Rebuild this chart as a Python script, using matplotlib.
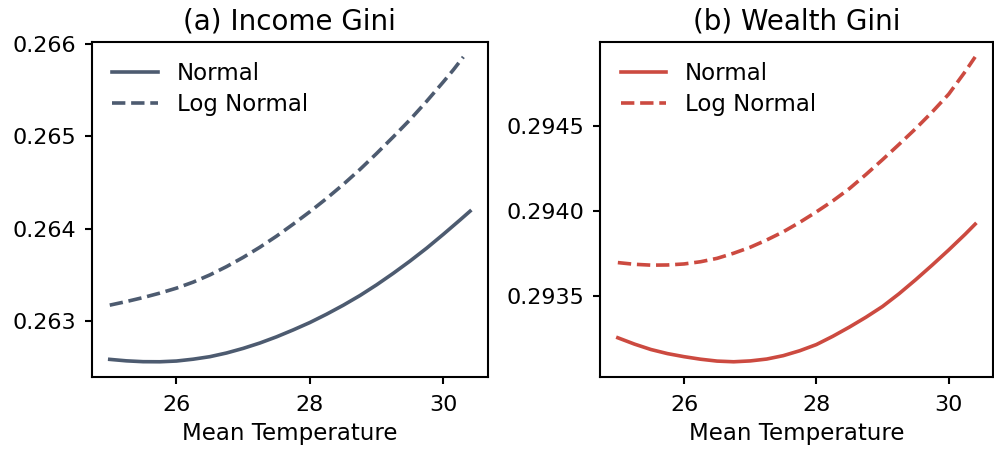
import matplotlib
matplotlib.use("Agg")
import matplotlib.pyplot as plt

# mean temperature grid
temp = [25.0, 25.25, 25.5, 25.75, 26.0, 26.25, 26.5, 26.75, 27.0, 27.25, 27.5, 27.75,
        28.0, 28.25, 28.5, 28.75, 29.0, 29.25, 29.5, 29.75, 30.0, 30.25, 30.4]
temp_ln_inc = [25.0, 25.25, 25.5, 25.75, 26.0, 26.25, 26.5, 26.75, 27.0, 27.25, 27.5, 27.75,
               28.0, 28.25, 28.5, 28.75, 29.0, 29.25, 29.5, 29.75, 30.0, 30.15, 30.3]

# (a) income gini
inc_normal = [0.262586, 0.262570, 0.262561, 0.262560, 0.262568, 0.262588, 0.262615, 0.262655,
              0.262705, 0.262763, 0.262830, 0.262905, 0.262985, 0.263075, 0.263172, 0.263277,
              0.263393, 0.263518, 0.263650, 0.263790, 0.263940, 0.264095, 0.264190]
inc_lognormal = [0.263173, 0.263212, 0.263255, 0.263303, 0.263357, 0.263422, 0.263500, 0.263590,
                 0.263690, 0.263800, 0.263920, 0.264050, 0.264185, 0.264328, 0.264480, 0.264642,
                 0.264815, 0.264995, 0.265180, 0.265380, 0.265590, 0.265720, 0.265860]

# (b) wealth gini
wea_normal = [0.293253, 0.293216, 0.293184, 0.293160, 0.293142, 0.293127, 0.293116, 0.293112,
              0.293117, 0.293128, 0.293148, 0.293177, 0.293213, 0.293262, 0.293316, 0.293374,
              0.293437, 0.293512, 0.293594, 0.293680, 0.293769, 0.293862, 0.293921]
wea_lognormal = [0.293695, 0.293685, 0.293680, 0.293681, 0.293687, 0.293700, 0.293720, 0.293750,
                 0.293785, 0.293828, 0.293876, 0.293932, 0.293993, 0.294058, 0.294130, 0.294213,
                 0.294300, 0.294390, 0.294482, 0.294580, 0.294685, 0.294818, 0.294904]

c_inc = "#4d5b70"
c_wea = "#cc4a40"

fig = plt.figure(figsize=(9.95, 4.55), dpi=100)
ax1 = fig.add_axes([0.0922, 0.1714, 0.3983, 0.737])
ax2 = fig.add_axes([0.603, 0.1714, 0.395, 0.737])

ax1.plot(temp, inc_normal, color=c_inc, lw=2.6, label="Normal")
ax1.plot(temp_ln_inc, inc_lognormal, color=c_inc, lw=2.6, ls="--", label="Log Normal")
ax1.set_title("(a) Income Gini", fontsize=20, pad=9)

ax2.plot(temp, wea_normal, color=c_wea, lw=2.6, label="Normal")
ax2.plot(temp, wea_lognormal, color=c_wea, lw=2.6, ls="--", label="Log Normal")
ax2.set_title("(b) Wealth Gini", fontsize=20, pad=9)

for ax in (ax1, ax2):
    ax.set_xlabel("Mean Temperature", fontsize=16.5, labelpad=5)
    ax.set_xticks([26, 28, 30])
    ax.ticklabel_format(axis="y", useOffset=False)
    ax.tick_params(labelsize=16, length=5, width=1.5, pad=6)
    ax.tick_params(axis="x", pad=8)
    for s in ax.spines.values():
        s.set_linewidth(1.5)
    ax.legend(loc="upper left", frameon=False, fontsize=16.5, handlelength=2.0,
              labelspacing=0.35)

ax1.set_yticks([0.263, 0.264, 0.265, 0.266])
ax2.set_yticks([0.2935, 0.2940, 0.2945])
ax2.set_yticklabels(["0.2935", "0.2940", "0.2945"])

fig.savefig("out.png", dpi=100)
